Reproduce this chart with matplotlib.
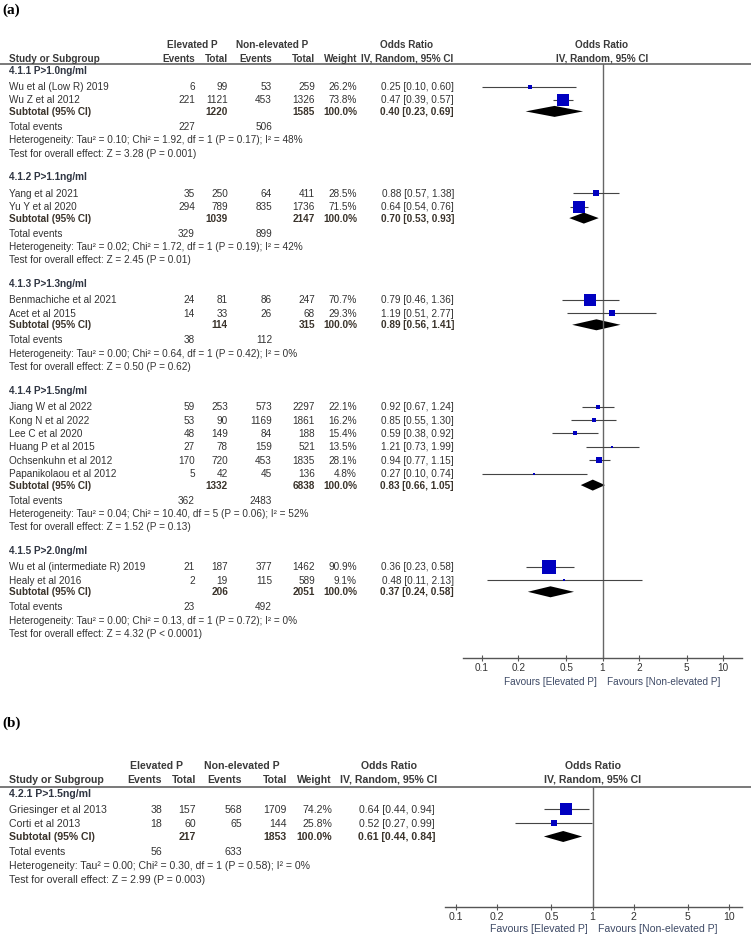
import numpy as np
import matplotlib
matplotlib.use('Agg')
import matplotlib.pyplot as plt
from matplotlib.patches import Polygon
from matplotlib.ticker import NullLocator

plt.rcParams['font.family'] = ['Liberation Sans', 'DejaVu Sans']

W, H = 751, 934

# ---------------- panel (a) data
a_groups = ['4.1.1 P>1.0ng/ml', '4.1.2 P>1.1ng/ml', '4.1.3 P>1.3ng/ml',
            '4.1.4 P>1.5ng/ml', '4.1.5 P>2.0ng/ml']
a_studies = ['Wu et al (Low R) 2019', 'Wu Z et al 2012',
             'Yang et al 2021', 'Yu Y et al 2020',
             'Benmachiche et al 2021', 'Acet et al 2015',
             'Jiang W et al 2022', 'Kong N et al 2022', 'Lee C et al 2020',
             'Huang P et al 2015', 'Ochsenkuhn et al 2012', 'Papanikolaou et al 2012',
             'Wu et al (intermediate R) 2019', 'Healy et al 2016']
a_study_group = [0, 0, 1, 1, 2, 2, 3, 3, 3, 3, 3, 3, 4, 4]
a_ev_e = [6, 221, 35, 294, 24, 14, 59, 53, 48, 27, 170, 5, 21, 2]
a_tot_e = [99, 1121, 250, 789, 81, 33, 253, 90, 149, 78, 720, 42, 187, 19]
a_ev_n = [53, 453, 64, 835, 86, 26, 573, 1169, 84, 159, 453, 45, 377, 115]
a_tot_n = [259, 1326, 411, 1736, 247, 68, 2297, 1861, 188, 521, 1835, 136, 1462, 589]
a_weight = [26.2, 73.8, 28.5, 71.5, 70.7, 29.3, 22.1, 16.2, 15.4, 13.5, 28.1, 4.8, 90.9, 9.1]
a_or = [0.25, 0.47, 0.88, 0.64, 0.79, 1.19, 0.92, 0.85, 0.59, 1.21, 0.94, 0.27, 0.36, 0.48]
a_lo = [0.10, 0.39, 0.57, 0.54, 0.46, 0.51, 0.67, 0.55, 0.38, 0.73, 0.77, 0.10, 0.23, 0.11]
a_hi = [0.60, 0.57, 1.38, 0.76, 1.36, 2.77, 1.24, 1.30, 0.92, 1.99, 1.15, 0.74, 0.58, 2.13]
a_sub_tot_e = [1220, 1039, 114, 1332, 206]
a_sub_tot_n = [1585, 2147, 315, 6838, 2051]
a_sub_or = [0.40, 0.70, 0.89, 0.83, 0.37]
a_sub_lo = [0.23, 0.53, 0.56, 0.66, 0.24]
a_sub_hi = [0.69, 0.93, 1.41, 1.05, 0.58]
a_sub_ev_e = [227, 329, 38, 362, 23]
a_sub_ev_n = [506, 899, 112, 2483, 492]
a_tau2 = ['0.10', '0.02', '0.00', '0.04', '0.00']
a_chi2 = ['1.92', '1.72', '0.64', '10.40', '0.13']
a_df = [1, 1, 1, 5, 1]
a_het_p = ['0.17', '0.19', '0.42', '0.06', '0.72']
a_i2 = [48, 42, 0, 52, 0]
a_z = ['3.28', '2.45', '0.50', '1.52', '4.32']
a_z_p = ['= 0.001', '= 0.01', '= 0.62', '= 0.13', '< 0.0001']

# ---------------- panel (b) data
b_groups = ['4.2.1 P>1.5ng/ml']
b_studies = ['Griesinger et al 2013', 'Corti et al 2013']
b_study_group = [0, 0]
b_ev_e = [38, 18]
b_tot_e = [157, 60]
b_ev_n = [568, 65]
b_tot_n = [1709, 144]
b_weight = [74.2, 25.8]
b_or = [0.64, 0.52]
b_lo = [0.44, 0.27]
b_hi = [0.94, 0.99]
b_sub_tot_e = [217]
b_sub_tot_n = [1853]
b_sub_or = [0.61]
b_sub_lo = [0.44]
b_sub_hi = [0.84]
b_sub_ev_e = [56]
b_sub_ev_n = [633]
b_tau2 = ['0.00']
b_chi2 = ['0.30']
b_df = [1]
b_het_p = ['0.58']
b_i2 = [0]
b_z = ['2.99']
b_z_p = ['= 0.003']

tick_vals = [0.1, 0.2, 0.5, 1, 2, 5, 10]
tick_labels = ['0.1', '0.2', '0.5', '1', '2', '5', '10']

TXT = '#333333'
HDR = '#3a3a3a'
GRP = '#2f3542'
SUB = '#3a332b'
BLUE = '#0000c0'
LINEC = '#555555'
FAV = '#3e4a66'

# layout in pixels (top-left origin)
lay_a = dict(label='(a)', label_y=10, hdr1=44, hdr2=58, line=64, first=70,
             study_off=16.5, step=13.4, sub_gap=11.5, tot_gap=15, grp_gap=23.5,
             x_study=9, cols=[195, 228, 272, 315, 357], x_or=454,
             elev_c=192, nonelev_c=272, or_c=407, axis1=602,
             x01=482, x10=723, fx0=463, fx1=742, axis_y=658, fav_y=681,
             fs=7.2, box=1.0)
lay_b = dict(label='(b)', label_y=723, hdr1=765, hdr2=779, line=787, first=793,
             study_off=16, step=14, sub_gap=13.5, tot_gap=15, grp_gap=23.5,
             x_study=9, cols=[162, 196, 242, 287, 332], x_or=435,
             elev_c=156, nonelev_c=242, or_c=389, axis1=593,
             x01=456, x10=729, fx0=445, fx1=742, axis_y=907, fav_y=928,
             fs=7.6, box=1.06)


def box_px(w):
    return max(2.0, 15.5 * (w / 100.0) ** 0.87)


def draw_panel(fig, ax, lay, groups, studies, study_group, ev_e, tot_e, ev_n, tot_n,
               weight, orr, lo, hi, sub_tot_e, sub_tot_n, sub_or, sub_lo, sub_hi,
               sub_ev_e, sub_ev_n, tau2, chi2, df, het_p, i2, z, z_p):
    fs = lay['fs']
    cx = lay['cols']
    xs = lay['x_study']
    # baseline offset so that the cap height is centred on the row position
    dy = 0.716 * fs * 100 / 72.0 / 2.0

    def put(x, y, s, **kw):
        ax.text(x, y + dy, s, va='baseline', fontsize=fs, **kw)

    ax.text(2, lay['label_y'], lay['label'], family=['Liberation Serif'], weight='bold',
            fontsize=11, ha='left', va='center', color='black')

    hk = dict(weight='bold', color=HDR)
    put(lay['elev_c'], lay['hdr1'], 'Elevated P', ha='center', **hk)
    put(lay['nonelev_c'], lay['hdr1'], 'Non-elevated P', ha='center', **hk)
    put(lay['or_c'], lay['hdr1'], 'Odds Ratio', ha='center', **hk)
    put(lay['or_c'], lay['hdr2'], 'IV, Random, 95% CI', ha='center', **hk)
    put(lay['axis1'], lay['hdr1'], 'Odds Ratio', ha='center', **hk)
    put(lay['axis1'], lay['hdr2'], 'IV, Random, 95% CI', ha='center', **hk)
    put(xs, lay['hdr2'], 'Study or Subgroup', ha='left', **hk)
    for x, s in zip(cx, ['Events', 'Total', 'Events', 'Total', 'Weight']):
        put(x, lay['hdr2'], s, ha='right', **hk)
    ax.axhline(lay['line'], color=LINEC, lw=1.1)

    # forest axes, log scale
    px_dec = (lay['x10'] - lay['x01']) / 2.0
    xmin = 10 ** (-1 - (lay['x01'] - lay['fx0']) / px_dec)
    xmax = 10 ** (1 + (lay['fx1'] - lay['x10']) / px_dec)
    fa = fig.add_axes([lay['fx0'] / W, 1 - lay['axis_y'] / H,
                       (lay['fx1'] - lay['fx0']) / W, (lay['axis_y'] - lay['line']) / H])
    fa.set_xscale('log')
    fa.set_xlim(xmin, xmax)
    fa.set_ylim(lay['axis_y'], lay['line'])
    fa.patch.set_visible(False)
    for sp in ['top', 'left', 'right']:
        fa.spines[sp].set_visible(False)
    fa.spines['bottom'].set_color(LINEC)
    fa.spines['bottom'].set_linewidth(1.0)
    fa.set_yticks([])
    fa.set_xticks(tick_vals)
    fa.set_xticklabels(tick_labels)
    fa.xaxis.set_minor_locator(NullLocator())
    fa.tick_params(axis='x', direction='inout', length=5, width=0.8, color=LINEC,
                   labelsize=fs, labelcolor=TXT, pad=1.0)
    fa.axvline(1, color='#666666', lw=1.0)

    put(lay['axis1'] - 5, lay['fav_y'], 'Favours [Elevated P]', ha='right', color=FAV)
    put(lay['axis1'] + 5, lay['fav_y'], 'Favours [Non-elevated P]', ha='left', color=FAV)

    tk = dict(color=TXT)
    bk = dict(color=SUB, weight='bold')
    y = lay['first']
    for g, name in enumerate(groups):
        put(xs, y, name, weight='bold', color=GRP, ha='left')
        idx = [i for i, k in enumerate(study_group) if k == g]
        y += lay['study_off']
        for n, i in enumerate(idx):
            if n > 0:
                y += lay['step']
            put(xs, y, studies[i], ha='left', **tk)
            vals = [str(ev_e[i]), str(tot_e[i]), str(ev_n[i]), str(tot_n[i]),
                    '%.1f%%' % weight[i]]
            for x, v in zip(cx, vals):
                put(x, y, v, ha='right', **tk)
            put(lay['x_or'], y, '%.2f [%.2f, %.2f]' % (orr[i], lo[i], hi[i]),
                ha='right', **tk)
            fa.plot([lo[i], hi[i]], [y, y], color='#444444', lw=0.8, solid_capstyle='butt')
            s = box_px(weight[i]) * lay['box'] * 72 / 100.0
            fa.plot([orr[i]], [y], marker='s', ms=s, color=BLUE, mew=0, ls='none')
        y += lay['sub_gap']
        put(xs, y, 'Subtotal (95% CI)', ha='left', **bk)
        put(cx[1], y, str(sub_tot_e[g]), ha='right', **bk)
        put(cx[3], y, str(sub_tot_n[g]), ha='right', **bk)
        put(cx[4], y, '100.0%', ha='right', **bk)
        put(lay['x_or'], y, '%.2f [%.2f, %.2f]' % (sub_or[g], sub_lo[g], sub_hi[g]),
            ha='right', **bk)
        hh = 5.5
        fa.add_patch(Polygon([(sub_lo[g], y), (sub_or[g], y - hh), (sub_hi[g], y),
                              (sub_or[g], y + hh)], closed=True, color='black', lw=0))
        y += lay['tot_gap']
        put(xs, y, 'Total events', ha='left', **tk)
        put(cx[0], y, str(sub_ev_e[g]), ha='right', **tk)
        put(cx[2], y, str(sub_ev_n[g]), ha='right', **tk)
        y += lay['step']
        het = ('Heterogeneity: Tau\u00b2 = %s; Chi\u00b2 = %s, df = %d (P = %s); I\u00b2 = %d%%'
               % (tau2[g], chi2[g], df[g], het_p[g], i2[g]))
        put(xs, y, het, ha='left', **tk)
        y += lay['step']
        put(xs, y, 'Test for overall effect: Z = %s (P %s)' % (z[g], z_p[g]),
            ha='left', **tk)
        y += lay['grp_gap']


fig = plt.figure(figsize=(W / 100, H / 100), dpi=100)
ax = fig.add_axes([0, 0, 1, 1])
ax.set_xlim(0, W)
ax.set_ylim(H, 0)
ax.axis('off')

draw_panel(fig, ax, lay_a, a_groups, a_studies, a_study_group, a_ev_e, a_tot_e, a_ev_n,
           a_tot_n, a_weight, a_or, a_lo, a_hi, a_sub_tot_e, a_sub_tot_n, a_sub_or,
           a_sub_lo, a_sub_hi, a_sub_ev_e, a_sub_ev_n, a_tau2, a_chi2, a_df, a_het_p,
           a_i2, a_z, a_z_p)
draw_panel(fig, ax, lay_b, b_groups, b_studies, b_study_group, b_ev_e, b_tot_e, b_ev_n,
           b_tot_n, b_weight, b_or, b_lo, b_hi, b_sub_tot_e, b_sub_tot_n, b_sub_or,
           b_sub_lo, b_sub_hi, b_sub_ev_e, b_sub_ev_n, b_tau2, b_chi2, b_df, b_het_p,
           b_i2, b_z, b_z_p)

fig.savefig('out.png', dpi=100)
